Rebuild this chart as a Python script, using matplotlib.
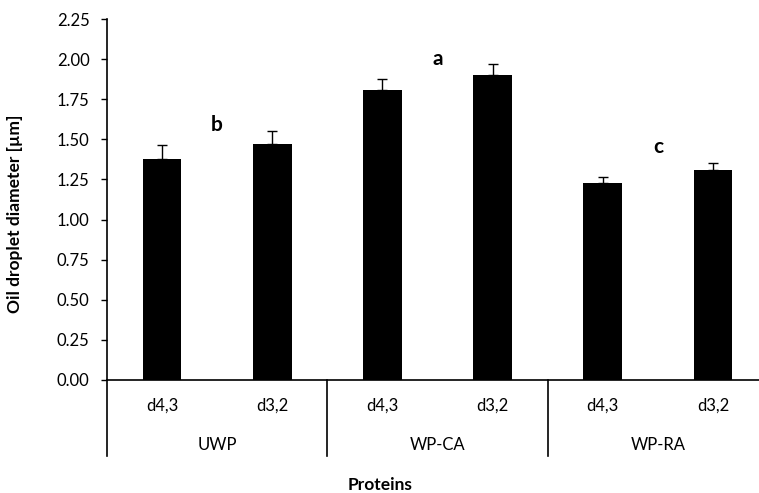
import matplotlib.pyplot as plt
from matplotlib.lines import Line2D

plt.rcParams["font.family"] = ["Lato", "DejaVu Sans"]

# data
gruppen = ["UWP", "WP-CA", "WP-RA"]
kennwerte = ["d4,3", "d3,2"]
mittelwerte = [1.38, 1.47, 1.81, 1.90, 1.23, 1.31]
fehler = [0.085, 0.08, 0.065, 0.07, 0.035, 0.04]
buchstaben = ["b", "a", "c"]
buchstaben_y = [1.59, 2.00, 1.45]

fig = plt.figure(figsize=(7.59, 4.93), dpi=100)
ax = fig.add_axes([107 / 759, 113 / 493, 661 / 759, 361 / 493])

x = list(range(len(mittelwerte)))
ax.bar(
    x,
    mittelwerte,
    width=0.35,
    color="black",
    yerr=[[0] * len(fehler), fehler],
    error_kw=dict(ecolor="black", elinewidth=1.0, capsize=3.5, capthick=1.0),
)

ax.set_xlim(-0.5, 5.5)
ax.set_ylim(0, 2.25)
ax.set_yticks([i * 0.25 for i in range(10)])
ax.set_yticklabels([f"{i * 0.25:.2f}" for i in range(10)])
ax.tick_params(axis="y", direction="out", length=4.5, width=1.0, pad=8,
               labelsize=12, colors="black")
ax.set_xticks([])
for s in ("top", "right"):
    ax.spines[s].set_visible(False)
ax.spines["left"].set_linewidth(1.2)
ax.spines["bottom"].set_linewidth(1.2)

# category and group labels below the axis
trans = ax.get_xaxis_transform()
for i, xi in enumerate(x):
    ax.text(xi, -0.072, kennwerte[i % 2], transform=trans, ha="center",
            va="center", fontsize=12)
for g, name in enumerate(gruppen):
    ax.text(2 * g + 0.5, -0.18, name, transform=trans, ha="center",
            va="center", fontsize=12)
    ax.text(2 * g + 0.5, buchstaben_y[g], buchstaben[g], ha="center",
            va="center", fontsize=15, fontweight="bold")
for xb in (-0.5, 1.5, 3.5):
    ax.add_line(Line2D([xb, xb], [0, -0.211], transform=trans, color="black",
                       linewidth=1.2, clip_on=False))

fig.text(15 / 759, 1 - 214 / 493, "Oil droplet diameter [µm]", rotation=90,
         ha="center", va="center", fontsize=12.5, fontweight="bold")
fig.text(380 / 759, 1 - 485 / 493, "Proteins", ha="center", va="center",
         fontsize=12.5, fontweight="bold")

fig.savefig("out.png", dpi=100)
